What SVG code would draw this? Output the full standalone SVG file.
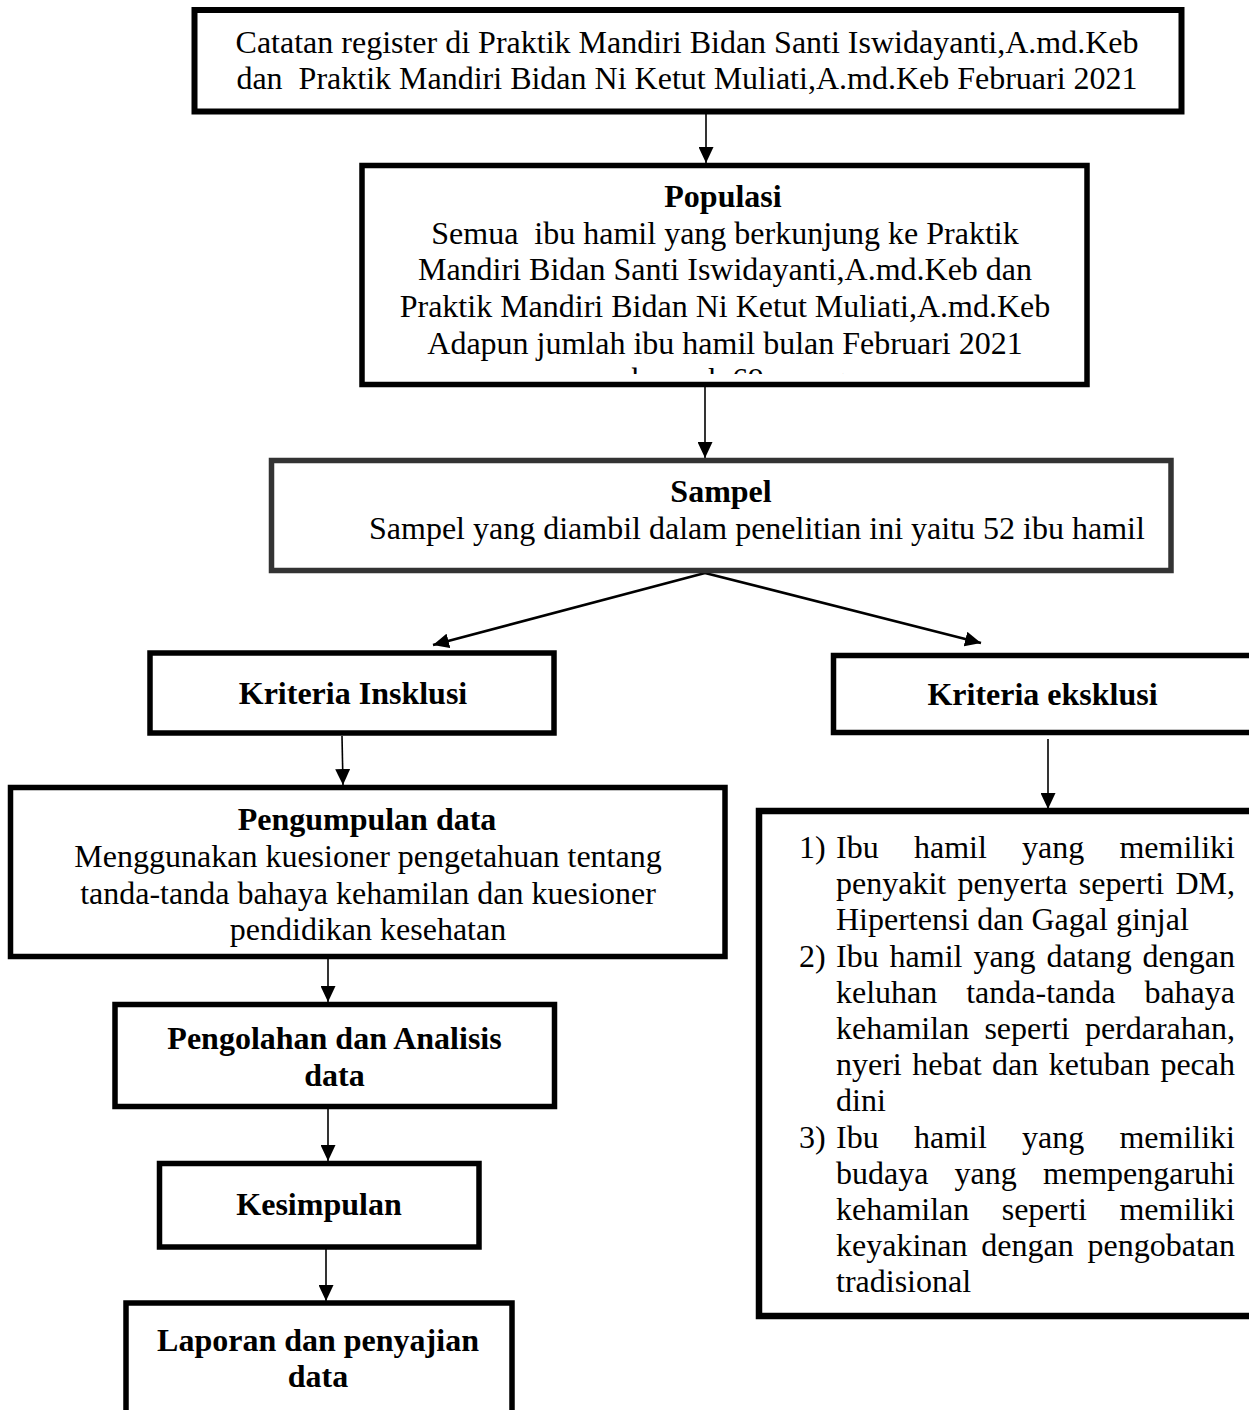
<svg xmlns="http://www.w3.org/2000/svg" width="1249" height="1410" viewBox="0 0 1249 1410">
<style>
text{font-family:"Liberation Serif","Times New Roman",serif;font-size:32px;fill:#000}
.b{font-weight:bold}
.m{text-anchor:middle}
.e{text-anchor:end}
.box{fill:#fff;stroke:#000;stroke-width:5.5}
.gbox{fill:#fff;stroke:#333;stroke-width:5.5}
.ln{stroke:#000;stroke-width:1.6;fill:none}
.dg{stroke:#000;stroke-width:2.6;fill:none}
</style>
<defs>
<marker id="ah" markerUnits="userSpaceOnUse" markerWidth="16" markerHeight="15" refX="16" refY="7.5" orient="auto">
<path d="M0,0 L16,7.5 L0,15 Z" fill="#000"/>
</marker>
<clipPath id="popClip"><rect x="365" y="168" width="719" height="206"/></clipPath>
</defs>
<rect width="1249" height="1410" fill="#fff"/>

<g id="connectors">
<line class="ln" x1="706" y1="114" x2="706" y2="163" marker-end="url(#ah)"/>
<line class="ln" x1="705" y1="387" x2="705" y2="458" marker-end="url(#ah)"/>
<line class="dg" x1="705" y1="573" x2="433" y2="645" marker-end="url(#ah)"/>
<line class="dg" x1="705" y1="573" x2="981" y2="643" marker-end="url(#ah)"/>
<line class="ln" x1="342" y1="736" x2="343" y2="785" marker-end="url(#ah)"/>
<line class="ln" x1="1048" y1="739" x2="1048" y2="809" marker-end="url(#ah)"/>
<line class="ln" x1="328" y1="959" x2="328" y2="1002" marker-end="url(#ah)"/>
<line class="ln" x1="328" y1="1109" x2="328" y2="1161" marker-end="url(#ah)"/>
<line class="ln" x1="326" y1="1249" x2="326" y2="1301" marker-end="url(#ah)"/>
</g>

<g id="catatan">
<rect class="box" x="194.5" y="10" width="987" height="101.5" style="stroke-width:6"/>
<text class="m" x="687" y="53">Catatan register di Praktik Mandiri Bidan Santi Iswidayanti,A.md.Keb</text>
<text class="m" x="687" y="89" xml:space="preserve">dan  Praktik Mandiri Bidan Ni Ketut Muliati,A.md.Keb Februari 2021</text>
</g>

<g id="populasi">
<rect class="box" x="362" y="165.5" width="725" height="219"/>
<text class="m b" x="723" y="207">Populasi</text>
<text class="m" x="725" y="243.5" xml:space="preserve">Semua  ibu hamil yang berkunjung ke Praktik</text>
<text class="m" x="725" y="280">Mandiri Bidan Santi Iswidayanti,A.md.Keb dan</text>
<text class="m" x="725" y="317">Praktik Mandiri Bidan Ni Ketut Muliati,A.md.Keb</text>
<text class="m" x="725" y="353.5">Adapun jumlah ibu hamil bulan Februari 2021</text>
<text class="m" x="725" y="390" clip-path="url(#popClip)">sebanyak 69 orang</text>
</g>

<g id="sampel">
<rect class="gbox" x="271.5" y="460.5" width="899.5" height="110"/>
<text class="m b" x="721" y="502">Sampel</text>
<text x="369" y="539">Sampel yang diambil dalam penelitian ini yaitu 52 ibu hamil</text>
</g>

<g id="inklusi">
<rect class="box" x="150" y="653" width="404" height="80"/>
<text class="m b" x="353" y="704">Kriteria Insklusi</text>
</g>

<g id="eksklusi">
<rect class="box" x="833.5" y="655.5" width="500" height="77"/>
<text class="m b" x="1042.5" y="705">Kriteria eksklusi</text>
</g>

<g id="pengumpulan">
<rect class="box" x="10.5" y="787.5" width="714.5" height="169"/>
<text class="m b" x="367" y="830">Pengumpulan data</text>
<text class="m" x="368" y="867">Menggunakan kuesioner pengetahuan tentang</text>
<text class="m" x="368" y="904">tanda-tanda bahaya kehamilan dan kuesioner</text>
<text class="m" x="368" y="940">pendidikan kesehatan</text>
</g>

<g id="pengolahan">
<rect class="box" x="115" y="1004.5" width="439.5" height="102"/>
<text class="m b" x="334.5" y="1049">Pengolahan dan Analisis</text>
<text class="m b" x="334.5" y="1086">data</text>
</g>

<g id="kesimpulan">
<rect class="box" x="159.5" y="1163.5" width="319.5" height="83.5"/>
<text class="m b" x="319" y="1215">Kesimpulan</text>
</g>

<g id="laporan">
<rect class="box" x="126" y="1303" width="386" height="130"/>
<text class="m b" x="318" y="1351">Laporan dan penyajian</text>
<text class="m b" x="318" y="1387">data</text>
</g>

<g id="daftar-eksklusi">
<rect class="box" x="759" y="811" width="600" height="505" style="stroke-width:6.5"/>
<text x="799" y="858">1)</text>
<text x="836" y="858">Ibu</text><text x="914" y="858">hamil</text><text x="1022" y="858">yang</text><text class="e" x="1235" y="858">memiliki</text>
<text x="836" y="894">penyakit</text><text x="957.4" y="894">penyerta</text><text x="1078.8" y="894">seperti</text><text class="e" x="1235" y="894">DM,</text>
<text x="836" y="930">Hipertensi dan Gagal ginjal</text>
<text x="799" y="967">2)</text>
<text x="836" y="967">Ibu</text><text x="889.6" y="967">hamil</text><text x="973.4" y="967">yang</text><text x="1046.5" y="967">datang</text><text class="e" x="1235" y="967">dengan</text>
<text x="836" y="1003">keluhan</text><text x="966.2" y="1003">tanda-tanda</text><text class="e" x="1235" y="1003">bahaya</text>
<text x="836" y="1039">kehamilan</text><text x="984.4" y="1039">seperti</text><text class="e" x="1235" y="1039">perdarahan,</text>
<text x="836" y="1075">nyeri</text><text x="912.3" y="1075">hebat</text><text x="992" y="1075">dan</text><text x="1048.7" y="1075">ketuban</text><text class="e" x="1235" y="1075">pecah</text>
<text x="836" y="1111">dini</text>
<text x="799" y="1148">3)</text>
<text x="836" y="1148">Ibu</text><text x="914" y="1148">hamil</text><text x="1022" y="1148">yang</text><text class="e" x="1235" y="1148">memiliki</text>
<text x="836" y="1184">budaya</text><text x="954.6" y="1184">yang</text><text class="e" x="1235" y="1184">mempengaruhi</text>
<text x="836" y="1220">kehamilan</text><text x="1001.7" y="1220">seperti</text><text class="e" x="1235" y="1220">memiliki</text>
<text x="836" y="1256">keyakinan</text><text x="981.3" y="1256">dengan</text><text class="e" x="1235" y="1256">pengobatan</text>
<text x="836" y="1292">tradisional</text>
</g>
</svg>
